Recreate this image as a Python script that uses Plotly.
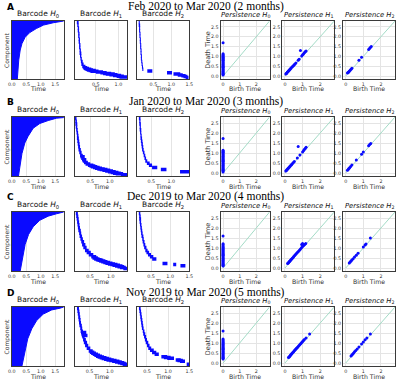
import plotly.graph_objects as go

W, H = 400, 379
BLUE = "#0a0aff"
DIAG = "#a3dbc6"
GRID = "#e4e4e4"
FRAME = "#3a3a3a"
TXT = "#333333"

row_titles = ["Feb 2020 to Mar 2020 (2 months)", "Jan 2020 to Mar 2020 (3 months)",
              "Dec 2019 to Mar 2020 (4 months)", "Nov 2019 to Mar 2020 (5 months)"]
row_letters = ["A", "B", "C", "D"]
panel_titles = ["Barcode <i>H</i><sub>0</sub>", "Barcode <i>H</i><sub>1</sub>", "Barcode <i>H</i><sub>2</sub>",
                "<i>Persistence H</i><sub>0</sub>", "<i>Persistence H</i><sub>1</sub>", "<i>Persistence H</i><sub>2</sub>"]

# ---- Barcode H0: component percentile (bottom->top) and death time of right boundary
h0_comp_A = [0, 16, 33, 50, 61, 72, 80, 87, 93, 97, 99, 100]
h0_death_A = [0.19, 0.21, 0.24, 0.29, 0.35, 0.46, 0.62, 0.85, 1.10, 1.44, 1.80, 1.80]
h0_comp_B = [0, 21, 38, 56, 67, 81, 89, 94, 98, 99, 100]
h0_death_B = [0.23, 0.29, 0.35, 0.45, 0.56, 0.74, 0.97, 1.26, 1.55, 1.80, 1.80]
h0_comp_C = [0, 23, 45, 62, 75, 86, 93, 97, 99, 100]
h0_death_C = [0.29, 0.37, 0.46, 0.58, 0.74, 0.97, 1.26, 1.55, 1.80, 1.80]
h0_comp_D = [0, 23, 46, 63, 77, 88, 95, 98, 99, 100]
h0_death_D = [0.35, 0.44, 0.55, 0.69, 0.86, 1.09, 1.38, 1.67, 1.80, 1.80]

# ---- Barcode H1 / H2 bars: (level, birth, death)
bars_A_H1 = [(40,0.08,0.12),(38,0.09,0.12),(36,0.10,0.13),(34,0.10,0.13),(32,0.11,0.14),(30,0.11,0.14),
             (28,0.12,0.15),(26,0.12,0.15),(24,0.13,0.16),(22,0.13,0.16),(20,0.14,0.17),(18,0.14,0.18),
             (16,0.15,0.18),(14,0.16,0.19),(12,0.17,0.21),(10,0.18,0.23),(8.5,0.20,0.27),(7.5,0.22,0.31),
             (7,0.24,0.35),(6.5,0.27,0.40),(6,0.30,0.44),(5.5,0.34,0.50),(5,0.38,0.56),(4.5,0.50,0.66),
             (4,0.60,0.74),(3.5,0.66,0.84),(3,0.72,0.92),(2.5,0.80,0.98),(2,0.88,1.06),(1.5,0.96,1.12),(1,1.02,1.19)]
bars_A_H2 = [(40,0.09,0.12),(38,0.09,0.13),(36,0.10,0.13),(34,0.10,0.13),(32,0.11,0.14),(30,0.11,0.14),
             (28,0.12,0.15),(26,0.12,0.15),(24,0.13,0.16),(22,0.13,0.16),(20,0.14,0.17),(18,0.14,0.17),
             (16,0.15,0.18),(14,0.15,0.18),(12,0.16,0.19),(10,0.17,0.20),(8,0.18,0.21),(6.5,0.19,0.22),
             (5.2,0.33,0.47),(4,0.88,1.02),(3,1.06,1.25),(2.4,1.18,1.32),(1.8,1.28,1.40),(1.2,1.34,1.45),(0.6,1.40,1.48)]
bars_B_H1 = [(40,0.11,0.15),(38,0.12,0.16),(36,0.12,0.17),(34,0.13,0.17),(32,0.14,0.18),(30,0.15,0.19),
             (28,0.16,0.20),(26,0.16,0.21),(24,0.17,0.22),(22,0.18,0.23),(20,0.19,0.24),(18,0.20,0.26),
             (16,0.22,0.28),(14,0.24,0.31),(13,0.25,0.36),(12,0.27,0.34),(11,0.29,0.40),(10,0.31,0.38),
             (9,0.34,0.44),(8,0.38,0.50),(7,0.44,0.58),(6.5,0.48,0.63),(6,0.52,0.68),(5.5,0.57,0.74),
             (5,0.62,0.80),(4.5,0.68,0.87),(4,0.74,0.94),(3.5,0.81,1.01),(3,0.88,1.08),(2.5,0.95,1.15),
             (2,1.02,1.22),(1.5,1.08,1.28),(1,1.15,1.34),(0.3,1.28,1.44)]
bars_B_H2 = [(40,0.19,0.23),(38,0.20,0.23),(36,0.20,0.24),(34,0.21,0.24),(32,0.21,0.25),(30,0.22,0.25),
             (28,0.23,0.26),(26,0.23,0.27),(24,0.24,0.28),(22,0.25,0.29),(20,0.26,0.30),(18,0.27,0.31),
             (16,0.29,0.33),(14,0.31,0.35),(12,0.33,0.37),(10,0.35,0.40),(8.5,0.39,0.46),(7,0.44,0.52),
             (5.5,0.52,0.65),(4,0.74,0.88),(2.5,1.22,1.45)]
bars_C_H1 = [(40,0.16,0.21),(38,0.17,0.22),(36,0.18,0.23),(34,0.19,0.24),(32,0.20,0.25),(30,0.21,0.26),
             (28,0.22,0.28),(26,0.24,0.29),(24,0.25,0.31),(22,0.27,0.33),(20,0.29,0.36),(18,0.31,0.39),
             (16,0.34,0.42),(14,0.38,0.47),(12.5,0.42,0.52),(11,0.47,0.58),(9.5,0.53,0.65),(8.7,0.56,0.69),
             (8,0.60,0.73),(7.5,0.64,0.78),(7,0.68,0.82),(6.5,0.72,0.87),(6,0.77,0.92),(5.5,0.82,0.98),
             (5,0.87,1.04),(4.5,0.93,1.10),(4,0.99,1.16),(3.5,1.04,1.22),(3,1.10,1.28),(2.5,1.16,1.32),
             (2,1.22,1.36),(1.2,1.30,1.40)]
bars_C_H2 = [(40,0.18,0.22),(38,0.19,0.23),(36,0.19,0.24),(34,0.20,0.24),(32,0.21,0.25),(30,0.22,0.26),
             (28,0.23,0.27),(26,0.24,0.28),(24,0.25,0.30),(22,0.27,0.31),(20,0.28,0.33),(18,0.30,0.35),
             (16,0.32,0.38),(14,0.35,0.41),(12.5,0.38,0.45),(11,0.42,0.50),(9.5,0.47,0.56),(8,0.53,0.64),
             (4.8,0.80,0.93),(4,1.08,1.16),(3.2,1.27,1.40)]
bars_D_H1 = [(40,0.19,0.24),(38,0.20,0.25),(36,0.21,0.26),(34,0.22,0.27),(32,0.23,0.28),(30,0.24,0.29),
             (28,0.25,0.31),(26,0.27,0.32),(24,0.28,0.34),(23,0.29,0.42),(22,0.30,0.36),(21,0.31,0.45),
             (20,0.32,0.38),(18,0.34,0.41),(16,0.36,0.44),(14,0.39,0.47),(12,0.43,0.52),(10,0.48,0.58),
             (9.2,0.51,0.62),(8.5,0.54,0.66),(7.7,0.58,0.71),(7,0.62,0.76),(6.4,0.66,0.81),(5.8,0.70,0.86),
             (5.3,0.75,0.92),(4.8,0.80,0.98),(4.3,0.86,1.04),(3.8,0.92,1.10),(3.3,0.99,1.17),(2.8,1.06,1.24),
             (2.3,1.13,1.30),(1.8,1.20,1.36),(1.3,1.26,1.40),(0.8,1.32,1.44)]
bars_D_H2 = [(40,0.31,0.35),(38,0.32,0.36),(36,0.33,0.37),(34,0.34,0.38),(32,0.35,0.39),(30,0.36,0.40),
             (28,0.37,0.41),(26,0.38,0.42),(24,0.40,0.44),(22,0.41,0.46),(20,0.43,0.48),(18,0.45,0.50),
             (16,0.47,0.53),(14,0.50,0.56),(12,0.53,0.60),(10.5,0.57,0.66),(9,0.62,0.72),(7.8,0.68,0.78),
             (6,0.84,0.98),(5.5,0.90,1.06),(5,0.98,1.14),(3.8,1.18,1.30),(3.3,1.22,1.35),(2.8,1.28,1.40),(0.8,1.44,1.50)]

# x ranges of barcode H1/H2 panels (per row)
bar_xrange_H1 = [[0.03, 1.20], [0.10, 1.45], [0.13, 1.40], [0.13, 1.44]]
bar_xrange_H2 = [[0.05, 1.50], [0.15, 1.45], [0.14, 1.50], [0.27, 1.50]]

# ---- Persistence diagrams
ph0_death_A = [0.05,0.09,0.14,0.18,0.23,0.27,0.32,0.36,0.41,0.45,0.50,0.54,0.59,0.63,0.68,0.72,0.77,0.81,0.86,0.90,0.95,0.99,1.04,1.08,1.13,1.70]
ph0_death_B = [0.05,0.10,0.14,0.19,0.23,0.28,0.32,0.37,0.41,0.46,0.50,0.55,0.59,0.64,0.68,0.73,0.77,0.82,0.86,0.91,0.95,1.00,1.04,1.09,1.14,1.72]
ph0_death_C = [0.10,0.14,0.19,0.23,0.28,0.32,0.37,0.41,0.46,0.50,0.55,0.60,0.64,0.69,0.73,0.78,0.82,0.87,0.92,0.96,1.01,1.05,1.10,1.16,1.21,1.60]
ph0_death_D = [0.20,0.24,0.29,0.33,0.38,0.42,0.47,0.51,0.56,0.60,0.65,0.69,0.74,0.78,0.83,0.87,0.92,0.96,1.01,1.05,1.10,1.15,1.20,1.60]

ph1_A = [(0.05,0.10),(0.08,0.13),(0.10,0.16),(0.13,0.19),(0.16,0.22),(0.19,0.25),(0.22,0.28),(0.25,0.31),
         (0.28,0.33),(0.31,0.37),(0.35,0.41),(0.40,0.46),(0.45,0.50),(0.50,0.55),(0.55,0.60),(0.62,0.66),
         (0.75,0.80),(0.80,0.86),(0.95,1.02),(1.00,1.08),(1.05,1.12),(1.10,1.18),(1.15,1.24),(1.20,1.28),(0.88,1.30)]
ph1_B = [(0.05,0.10),(0.08,0.13),(0.11,0.16),(0.14,0.19),(0.17,0.22),(0.20,0.25),(0.23,0.28),(0.26,0.31),
         (0.30,0.35),(0.34,0.39),(0.38,0.43),(0.43,0.48),(0.48,0.53),(0.53,0.58),(0.70,0.75),(0.85,0.90),
         (1.00,1.05),(1.05,1.11),(1.10,1.17),(1.15,1.23),(1.20,1.29),(0.75,1.32)]
ph1_C = [(0.15,0.22),(0.18,0.25),(0.21,0.28),(0.24,0.31),(0.27,0.34),(0.30,0.37),(0.34,0.41),(0.38,0.45),
         (0.42,0.49),(0.46,0.53),(0.50,0.57),(0.55,0.62),(0.60,0.67),(0.65,0.72),(0.70,0.77),(0.76,0.83),
         (0.82,0.89),(0.88,0.95),(0.94,1.01),(1.00,1.07),(1.06,1.12),(1.12,1.18),(1.18,1.22),(0.95,1.18),(1.00,1.22)]
ph1_D = [(0.20,0.27),(0.23,0.30),(0.26,0.33),(0.29,0.36),(0.32,0.40),(0.35,0.43),(0.38,0.46),(0.42,0.50),
         (0.46,0.54),(0.50,0.58),(0.54,0.62),(0.58,0.66),(0.62,0.70),(0.66,0.74),(0.70,0.78),(0.75,0.83),
         (0.80,0.88),(0.85,0.93),(0.90,0.98),(0.95,1.03),(1.00,1.08),(1.05,1.13),(1.10,1.18),(1.20,1.25),(1.40,1.45)]

ph2_A = [(0.10,0.15),(0.13,0.18),(0.17,0.21),(0.20,0.24),(0.25,0.29),(0.30,0.34),(0.35,0.40),(0.75,0.80),
         (0.90,0.95),(1.30,1.35),(1.35,1.40),(1.40,1.45),(1.45,1.50)]
ph2_B = [(0.10,0.14),(0.14,0.18),(0.18,0.22),(0.22,0.26),(0.28,0.32),(0.35,0.40),(0.60,0.65),(0.90,0.94),
         (1.00,1.05),(1.30,1.36),(1.36,1.42),(1.42,1.48)]
ph2_C = [(0.20,0.25),(0.25,0.30),(0.30,0.35),(0.35,0.40),(0.42,0.46),(0.50,0.55),(0.60,0.64),(0.70,0.74),
         (1.00,1.05),(1.10,1.15),(1.15,1.20),(1.40,1.50)]
ph2_D = [(0.30,0.35),(0.35,0.40),(0.40,0.45),(0.45,0.50),(0.50,0.56),(0.57,0.62),(0.65,0.70),(0.75,0.80),
         (0.90,0.95),(1.00,1.05),(1.10,1.16),(1.20,1.25),(1.40,1.45)]

diag = [0.0, 2.8]
pers_ticks = [0, 0.5, 1.0, 1.5, 2.0, 2.5]
pers_ticktext = ["0.0", "0.5", "1.0", "1.5", "2.0", "2.5"]
birth_ticks = [0, 1, 2]
time_ticks = [0.0, 0.5, 1.0, 1.5]
time_ticktext = ["0.0", "0.5", "1.0", "1.5"]

rows_h0 = [(h0_comp_A, h0_death_A), (h0_comp_B, h0_death_B), (h0_comp_C, h0_death_C), (h0_comp_D, h0_death_D)]
rows_bars = [(bars_A_H1, bars_A_H2), (bars_B_H1, bars_B_H2), (bars_C_H1, bars_C_H2), (bars_D_H1, bars_D_H2)]
rows_p0 = [ph0_death_A, ph0_death_B, ph0_death_C, ph0_death_D]
rows_p1 = [ph1_A, ph1_B, ph1_C, ph1_D]
rows_p2 = [ph2_A, ph2_B, ph2_C, ph2_D]

# ---- layout geometry (pixels)
COLS = [(8, 61), (72, 126), (136, 189), (221, 271), (284, 337), (346, 399)]
ROWS = [(21, 79), (117, 176), (212, 271), (307, 366)]
TITLE_Y = [6, 101, 196, 292]


def px(x):
    return x / W


def py(y):
    return 1 - y / H


fig = go.Figure()
layout = {}
ann = []
tickfont = dict(family="DejaVu Sans", size=4.8, color=TXT)


def base_axis():
    return dict(showline=True, mirror=True, linecolor=FRAME, linewidth=1, zeroline=False,
                gridcolor=GRID, gridwidth=1, tickfont=tickfont, ticks="", fixedrange=True)


def bars_xy(bars):
    xs, ys = [], []
    for lvl, b, d in bars:
        xs += [b, d, None]
        ys += [lvl, lvl, None]
    return xs, ys


k = 0
for r in range(4):
    top, bot = ROWS[r]
    for c in range(6):
        k += 1
        xn = "x" if k == 1 else f"x{k}"
        yn = "y" if k == 1 else f"y{k}"
        xa = "xaxis" if k == 1 else f"xaxis{k}"
        ya = "yaxis" if k == 1 else f"yaxis{k}"
        x0, x1 = COLS[c]
        xax = base_axis()
        yax = base_axis()
        xax.update(domain=[px(x0), px(x1)], anchor=yn)
        yax.update(domain=[py(bot), py(top)], anchor=xn)
        if c == 0:
            comp, death = rows_h0[r]
            fig.add_trace(go.Scatter(x=death, y=comp, mode="lines", line=dict(color=BLUE, width=1),
                                     fill="tozerox", fillcolor=BLUE, xaxis=xn, yaxis=yn, hoverinfo="skip"))
            xax.update(range=[0, 1.8], tickvals=time_ticks, ticktext=time_ticktext, showgrid=True)
            yax.update(range=[0, 100], showticklabels=False, showgrid=False)
        elif c in (1, 2):
            bars = rows_bars[r][c - 1]
            xs, ys = bars_xy(bars)
            fig.add_trace(go.Scatter(x=xs, y=ys, mode="lines", line=dict(color=BLUE, width=3.5),
                                     xaxis=xn, yaxis=yn, hoverinfo="skip"))
            rng = bar_xrange_H1[r] if c == 1 else bar_xrange_H2[r]
            tv = [t for t in [0.5, 1.0, 1.5] if rng[0] < t <= rng[1] + 0.001]
            xax.update(range=rng, tickvals=tv, ticktext=[f"{t:.1f}" for t in tv], showgrid=True)
            yax.update(range=[-0.5, 41], showticklabels=False, showgrid=False)
        else:
            fig.add_trace(go.Scatter(x=diag, y=diag, mode="lines", line=dict(color=DIAG, width=1),
                                     xaxis=xn, yaxis=yn, hoverinfo="skip"))
            if c == 3:
                ds = rows_p0[r]
                bs = [0.0] * len(ds)
            else:
                pts = rows_p1[r] if c == 4 else rows_p2[r]
                bs = [p[0] for p in pts]
                ds = [p[1] for p in pts]
            fig.add_trace(go.Scatter(x=bs, y=ds, mode="markers", marker=dict(color=BLUE, size=3, line=dict(width=0)),
                                     xaxis=xn, yaxis=yn, hoverinfo="skip"))
            xax.update(range=[-0.15, 2.8], tickvals=birth_ticks, showgrid=True)
            yax.update(range=[-0.15, 2.8], tickvals=pers_ticks, ticktext=pers_ticktext, showgrid=True)
        layout[xa] = xax
        layout[ya] = yax
        # panel title
        ann.append(dict(text=panel_titles[c], x=px((x0 + x1) / 2), y=py(top - 0.5), xref="paper", yref="paper",
                        xanchor="center", yanchor="bottom", showarrow=False,
                        font=dict(family="DejaVu Sans", size=7.5 if c < 3 else 6.8, color="#111")))
        # x axis title
        ann.append(dict(text="Time" if c < 3 else "Birth Time", x=px((x0 + x1) / 2), y=py(bot + 10),
                        xref="paper", yref="paper", xanchor="center", yanchor="middle", showarrow=False,
                        font=dict(family="DejaVu Sans", size=6.2, color=TXT)))
        if c == 0:
            ann.append(dict(text="Component", x=px(3), y=py((top + bot) / 2), xref="paper", yref="paper",
                            textangle=-90, xanchor="center", yanchor="middle", showarrow=False,
                            font=dict(family="DejaVu Sans", size=6, color=TXT)))
        if c == 3:
            ann.append(dict(text="Death Time", x=px(208), y=py((top + bot) / 2), xref="paper", yref="paper",
                            textangle=-90, xanchor="center", yanchor="middle", showarrow=False,
                            font=dict(family="DejaVu Sans", size=6.5, color=TXT)))
    ann.append(dict(text=row_titles[r], x=px(206), y=py(TITLE_Y[r]), xref="paper", yref="paper",
                    xanchor="center", yanchor="middle", showarrow=False,
                    font=dict(family="Liberation Serif", size=11.5, color="#000")))
    ann.append(dict(text=f"<b>{row_letters[r]}</b>", x=px(1), y=py(TITLE_Y[r] + 1), xref="paper", yref="paper",
                    xanchor="left", yanchor="middle", showarrow=False,
                    font=dict(family="DejaVu Sans", size=9, color="#000")))

fig.update_layout(width=W, height=H, margin=dict(l=0, r=0, t=0, b=0), showlegend=False,
                  paper_bgcolor="white", plot_bgcolor="white", annotations=ann, **layout)
fig.write_html("out.html", config={"displayModeBar": False},
               post_script="document.body.style.margin='0';document.body.style.padding='0';")
